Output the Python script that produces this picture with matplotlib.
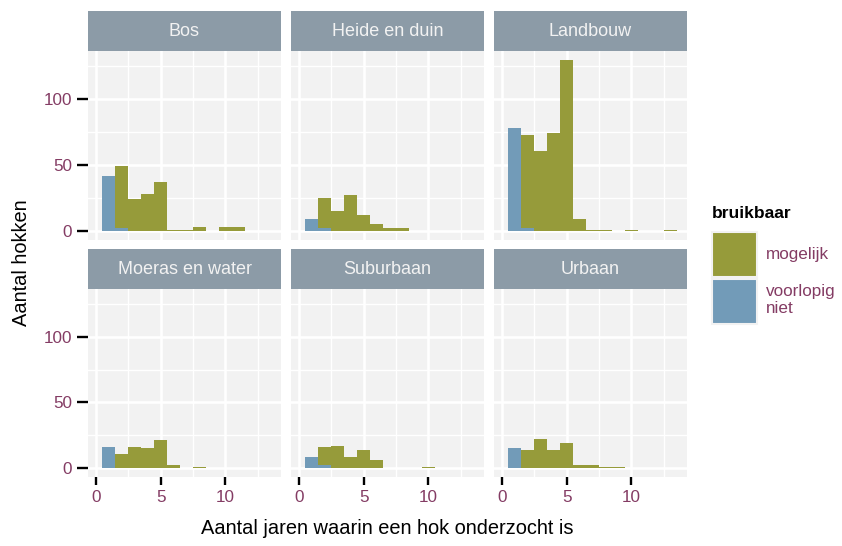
"""Faceted stacked histogram: number of years a plot (hok) was surveyed, per habitat."""
import matplotlib

matplotlib.use("Agg")

import matplotlib.pyplot as plt  # noqa: E402
from matplotlib.patches import Patch  # noqa: E402
from matplotlib.ticker import MultipleLocator  # noqa: E402

plt.rcParams["font.family"] = ["Liberation Sans", "DejaVu Sans"]

W, H, DPI = 842, 546, 100

GREEN = "#969B3A"
BLUE = "#729BB8"
STRIP = "#8C9BA7"
PANEL = "#F2F2F2"
PURPLE = "#843C64"

# --- data: counts per number of years (1..13) ---
years = list(range(1, 14))
facets = ["Bos", "Heide en duin", "Landbouw",
          "Moeras en water", "Suburbaan", "Urbaan"]
mogelijk = {
    "Bos":             [0, 47, 24, 28, 37, 1, 1, 3, 0, 3, 3, 0, 0],
    "Heide en duin":   [0, 23, 15, 27, 12, 5, 2, 2, 0, 0, 0, 0, 0],
    "Landbouw":        [0, 71, 61, 74, 130, 9, 1, 1, 0, 1, 0, 0, 1],
    "Moeras en water": [0, 11, 16, 15, 21, 2, 0, 1, 0, 0, 0, 0, 0],
    "Suburbaan":       [0, 14, 17, 8, 14, 6, 0, 0, 0, 1, 0, 0, 0],
    "Urbaan":          [0, 14, 22, 14, 19, 2, 2, 1, 1, 0, 0, 0, 0],
}
voorlopig_niet = {
    "Bos":             [42, 2, 0, 0, 0, 0, 0, 0, 0, 0, 0, 0, 0],
    "Heide en duin":   [9, 2, 0, 0, 0, 0, 0, 0, 0, 0, 0, 0, 0],
    "Landbouw":        [78, 2, 0, 0, 0, 0, 0, 0, 0, 0, 0, 0, 0],
    "Moeras en water": [16, 0, 0, 0, 0, 0, 0, 0, 0, 0, 0, 0, 0],
    "Suburbaan":       [8, 2, 0, 0, 0, 0, 0, 0, 0, 0, 0, 0, 0],
    "Urbaan":          [15, 0, 0, 0, 0, 0, 0, 0, 0, 0, 0, 0, 0],
}

# panel geometry in pixels (left, right) / (top, bottom)
COLS = [(88, 281), (291, 484), (494, 687)]
ROWS = [(51, 239.5), (289, 476.5)]
STRIP_H = 40


def px_axes(fig, x0, y0, x1, y1):
    return fig.add_axes([x0 / W, 1 - y1 / H, (x1 - x0) / W, (y1 - y0) / H])


fig = plt.figure(figsize=(W / DPI, H / DPI), dpi=DPI)

for k, name in enumerate(facets):
    r, c = divmod(k, 3)
    (x0, x1), (y0, y1) = COLS[c], ROWS[r]
    ax = px_axes(fig, x0, y0, x1, y1)
    ax.set_facecolor(PANEL)
    ax.bar(years, voorlopig_niet[name], width=1.0, color=BLUE, linewidth=0, zorder=2)
    ax.bar(years, mogelijk[name], width=1.0, bottom=voorlopig_niet[name],
           color=GREEN, linewidth=0, zorder=2)
    ax.set_xlim(-0.62, 14.29)
    ax.set_ylim(-6.5, 136.5)
    ax.xaxis.set_major_locator(MultipleLocator(5))
    ax.xaxis.set_minor_locator(MultipleLocator(2.5))
    ax.yaxis.set_major_locator(MultipleLocator(50))
    ax.yaxis.set_minor_locator(MultipleLocator(25))
    ax.grid(True, which="major", color="white", lw=1.9, zorder=1)
    ax.grid(True, which="minor", color="white", lw=0.95, zorder=1)
    ax.set_axisbelow(True)
    for s in ax.spines.values():
        s.set_visible(False)
    ax.tick_params(which="minor", length=0)
    ax.tick_params(axis="x", which="major", length=6, width=1.7, color="black",
                   labelsize=12.3, labelcolor=PURPLE, pad=3.5,
                   labelbottom=(r == 1), bottom=(r == 1))
    ax.tick_params(axis="y", which="major", length=8, width=1.7, color="black",
                   labelsize=12.3, labelcolor=PURPLE, pad=3.5,
                   labelleft=(c == 0), left=(c == 0))

    st = px_axes(fig, x0, y0 - STRIP_H, x1, y0)
    st.set_facecolor(STRIP)
    st.set_xticks([])
    st.set_yticks([])
    for s in st.spines.values():
        s.set_visible(False)
    st.text(0.5, 0.5, name, transform=st.transAxes, ha="center", va="center",
            fontsize=13, color="#F2F2F2")

fig.text(387 / W, 1 - 528 / H, "Aantal jaren waarin een hok onderzocht is",
         ha="center", va="center", fontsize=14.4)
fig.text(22 / W, 1 - 263 / H, "Aantal hokken", ha="center", va="center",
         rotation=90, fontsize=14.4)

# legend: title as plain text so the gap to the keys can match ggplot's
fig.text(712 / W, 1 - 214 / H, "bruikbaar", ha="left", va="center",
         fontsize=12.5, fontweight="bold")
handles = [Patch(facecolor=GREEN, edgecolor=PANEL, lw=1.5, label="mogelijk"),
           Patch(facecolor=BLUE, edgecolor=PANEL, lw=1.5, label="voorlopig\nniet")]
leg = fig.legend(handles=handles, loc="upper left",
                 bbox_to_anchor=(712 / W, 1 - 231.5 / H), frameon=False,
                 borderpad=0, borderaxespad=0, handlelength=2.65,
                 handleheight=3.68, handletextpad=0.5, labelspacing=0.12,
                 fontsize=12.3)
for t in leg.get_texts():
    t.set_color(PURPLE)

fig.savefig("out.png", dpi=DPI)
